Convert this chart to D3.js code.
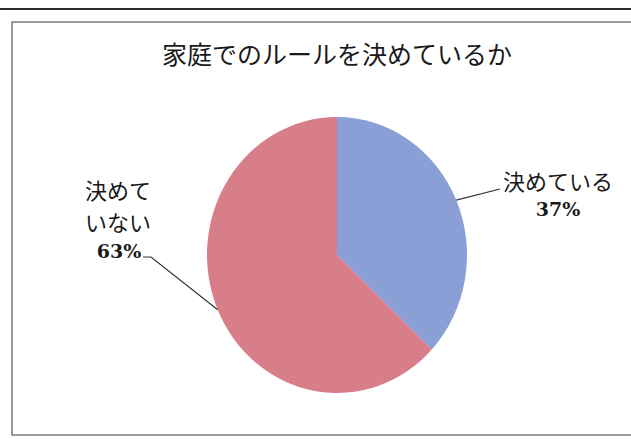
<!DOCTYPE html>
<html><head><meta charset="utf-8">
<script src="https://cdn.jsdelivr.net/npm/d3@7"></script>
<style>html,body{margin:0;padding:0;background:#fff;}svg{display:block;}</style>
</head><body>
<script>
const title = "家庭でのルールを決めているか";
const categories = ["決めている", "決めていない"];
const values = [37, 63];
const labelLines = [["決めている"], ["決めて", "いない"]];
const pctLabels = ["37%", "63%"];
const colors = ["#8a9fd6", "#d87e89"];

const W = 631, H = 439;
const svg = d3.select("body").append("svg").attr("width", W).attr("height", H);

// page line and chart frame
svg.append("line").attr("x1", 0).attr("x2", W).attr("y1", 9).attr("y2", 9)
  .attr("stroke", "#2a2a2a").attr("stroke-width", 2);
svg.append("rect").attr("x", 12).attr("y", 22).attr("width", W + 20).attr("height", 413)
  .attr("fill", "none").attr("stroke", "#666").attr("stroke-width", 1.3);

svg.append("text").attr("x", 337).attr("y", 64).attr("text-anchor", "middle")
  .attr("font-family", "'Noto Sans CJK JP'").attr("font-size", 25).attr("fill", "#1a1a1a")
  .text(title);

const cx = 337, cy = 255, r = 130, sy = 138 / 130;
const pie = d3.pie().sort(null).value(d => d)(values);
const arc = d3.arc().innerRadius(0).outerRadius(r);
const g = svg.append("g").attr("transform", `translate(${cx},${cy}) scale(1,${sy})`);
g.selectAll("path").data(pie).join("path")
  .attr("d", arc).attr("fill", (d, i) => colors[i]);

// leader lines from slice mid-angle edge point
function edge(d) {
  const a = (d.startAngle + d.endAngle) / 2;
  return [cx + r * Math.sin(a), cy - r * Math.cos(a) * sy];
}
const leaderEnds = [[[500, 189]], [[151, 257], [143, 257]]];
pie.forEach((d, i) => {
  const pts = [edge(d), ...leaderEnds[i]];
  svg.append("path").attr("d", d3.line()(pts)).attr("fill", "none")
    .attr("stroke", "#333").attr("stroke-width", 1.2);
});

// labels
const labelPos = [{x: 558, ys: [190], py: 216, px: 558}, {x: 118, ys: [199, 231], py: 258, px: 119}];
labelPos.forEach((p, i) => {
  labelLines[i].forEach((t, j) => {
    svg.append("text").attr("x", p.x).attr("y", p.ys[j]).attr("text-anchor", "middle")
      .attr("font-family", "'Noto Sans CJK JP'").attr("font-size", 22).attr("fill", "#1a1a1a")
      .text(t);
  });
  svg.append("text").attr("x", p.px).attr("y", p.py).attr("text-anchor", "middle")
    .attr("font-family", "'DejaVu Serif'").attr("font-weight", "bold").attr("font-size", 19)
    .attr("fill", "#1a1a1a").text(pctLabels[i]);
});
</script>
</body></html>
